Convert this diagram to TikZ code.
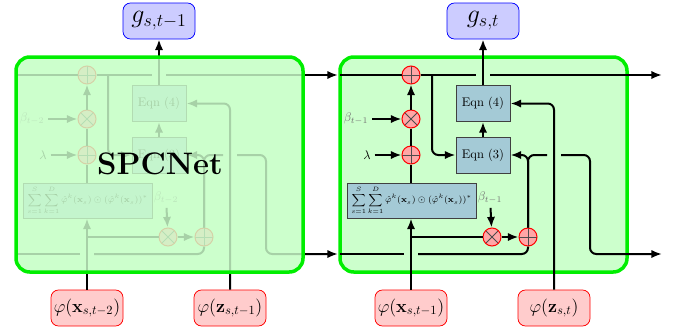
\documentclass[tikz,border=0pt]{standalone}
\usepackage{amsmath,amssymb}
\usetikzlibrary{arrows.meta}
\definecolor{eqnblue}{RGB}{164,202,214}
\definecolor{blockgreen}{RGB}{0,238,0}
\tikzset{
 ln/.style={line width=1.6pt},
 ar/.style={line width=1.6pt, -{Latex[length=8.5pt,width=6.6pt]}},
 rcor/.style={rounded corners=5pt},
 opbase/.style={circle, draw=red, line width=0.8pt, fill=red!35, minimum size=14.4pt, inner sep=0pt},
 opplus/.style={opbase, path picture={\draw[black!70,line width=0.7pt] (path picture bounding box.north)--(path picture bounding box.south) (path picture bounding box.west)--(path picture bounding box.east);}},
 optimes/.style={opbase, path picture={\draw[black!70,line width=0.7pt] (path picture bounding box.north west)--(path picture bounding box.south east) (path picture bounding box.south west)--(path picture bounding box.north east);}},
 eqnbox/.style={draw=black!75, line width=0.8pt, fill=eqnblue, minimum width=43.2pt, minimum height=28.8pt, inner sep=0pt},
 sumbox/.style={eqnbox, minimum width=103.2pt, minimum height=28pt, font=\scriptsize},
 betalbl/.style={text=black!55, inner sep=3pt},
 lamlbl/.style={inner sep=3pt},
 gnode/.style={draw=blue, line width=0.6pt, fill=blue!20, rounded corners=6pt, minimum width=57.6pt, minimum height=28.8pt, inner sep=0pt, font=\huge},
 inode/.style={draw=red, line width=0.6pt, fill=red!20, rounded corners=6pt, minimum width=57.6pt, minimum height=28.8pt, inner sep=0pt, font=\Large},
 blockfill/.style={fill=green!20, rounded corners=11pt},
 blockborder/.style={draw=blockgreen, line width=2.8pt, rounded corners=11pt},
}
% #1 shift, #2 prefix, #3 beta subscript, #4 g node, #5 x node, #6 z node
\newcommand\spccell[6]{%
\begin{scope}[shift={(#1,0)}]
 \node[opplus] (#2pa) at (411,75) {};
 \node[optimes] (#2ma) at (411,119) {};
 \node[opplus] (#2pb) at (411,155) {};
 \node[betalbl] (#2ba) at (356,119) {$\beta_{#3}$};
 \node[lamlbl] (#2la) at (367,155) {$\lambda$};
 \node[sumbox] (#2sum) at (411.5,200.5) {$\displaystyle\sum_{s=1}^{S}\sum_{k=1}^{D}\hat{\varphi}^k(\mathbf{x}_s)\odot(\hat{\varphi}^k(\mathbf{x}_s))^*$};
 \node[eqnbox] (#2e4) at (483,103.5) {Eqn (4)};
 \node[eqnbox] (#2e3) at (483,155) {Eqn (3)};
 \node[optimes] (#2mb) at (492,237) {};
 \node[opplus] (#2pc) at (528,237) {};
 \node[betalbl] (#2bb) at (490,198) {$\beta_{#3}$};
 \coordinate (#2l0) at (340,75);
 \coordinate (#2b0) at (340,254);
 \coordinate (#2gapT1) at (476,75);
 \coordinate (#2gapT2) at (490,75);
 \coordinate (#2outT) at (662,75);
 \coordinate (#2brT) at (432,75);
 \coordinate (#2gapB1) at (404,254);
 \coordinate (#2gapB2) at (418,254);
 \coordinate (#2gapM1) at (547,155);
 \coordinate (#2gapM2) at (561,155);
 \coordinate (#2cnr) at (590,254);
 \coordinate (#2outB) at (662,254);
 \draw[ln] (#2l0) -- (#2pa.west);
 \draw[ln] (#2pa.east) -- (#2gapT1);
 \draw[ar] (#2gapT2) -- (#2outT);
 \draw[ar,rcor] (#2brT) |- (#2e3.west);
 \draw[ar] (#2e3) -- (#2e4);
 \draw[ar] (#2e4.north) -- (#4.south);
 \draw[ln] (#2pb) -- (#2ma);
 \draw[ar] (#2ma) -- (#2pa);
 \draw[ar] (#2ba) -- (#2ma);
 \draw[ar] (#2la) -- (#2pb);
 \draw[ln] (#2sum.north -| #2pb) -- (#2pb);
 \draw[ar] (#5.north) -- (#5.north |- #2sum.south);
 \draw[ln] (#5.north |- #2mb) -- (#2mb);
 \draw[ar] (#2mb) -- (#2pc);
 \draw[ar] (#2bb) -- (#2mb);
 \draw[ar,rcor] (#2pc.north) |- (#2e3.east);
 \draw[ln,rcor] (#2pc.north) |- (#2gapM1);
 \draw[ar,rcor] (#2gapM2) -| (#2cnr) -- (#2outB);
 \draw[ln] (#2b0) -- (#2gapB1);
 \draw[ln,rcor] (#2gapB2) -| (#2pc.south);
 \draw[ar,rcor] (#6.north) |- (#2e4.east);
\end{scope}}

\begin{document}
\begin{tikzpicture}[x=0.8pt,y=-0.8pt]
\useasboundingbox (0,0) rectangle (673,329);
% outer nodes
\node[gnode] (g1) at (159,21) {$g_{s,t-1}$};
\node[gnode] (g2) at (483,21) {$g_{s,t}$};
\node[inode] (x1) at (87,308) {$\varphi(\mathbf{x}_{s,t-2})$};
\node[inode] (z1) at (230,308) {$\varphi(\mathbf{z}_{s,t-1})$};
\node[inode] (x2) at (411,308) {$\varphi(\mathbf{x}_{s,t-1})$};
\node[inode] (z2) at (554,308) {$\varphi(\mathbf{z}_{s,t})$};
% block fills
\path[blockfill] (340,57) rectangle (627,272);
\path[blockfill] (16,57) rectangle (303,272);
% left (folded) cell
\spccell{-324}{L}{t-2}{g1}{x1}{z1}
\path[blockborder, fill=green!20, fill opacity=0.82] (16,57) rectangle (303,272);
\node[font=\Huge\bfseries] (spc) at (160,164) {SPCNet};
% right cell
\path[blockborder] (340,57) rectangle (627,272);
\spccell{0}{R}{t-1}{g2}{x2}{z2}
\end{tikzpicture}
\end{document}
